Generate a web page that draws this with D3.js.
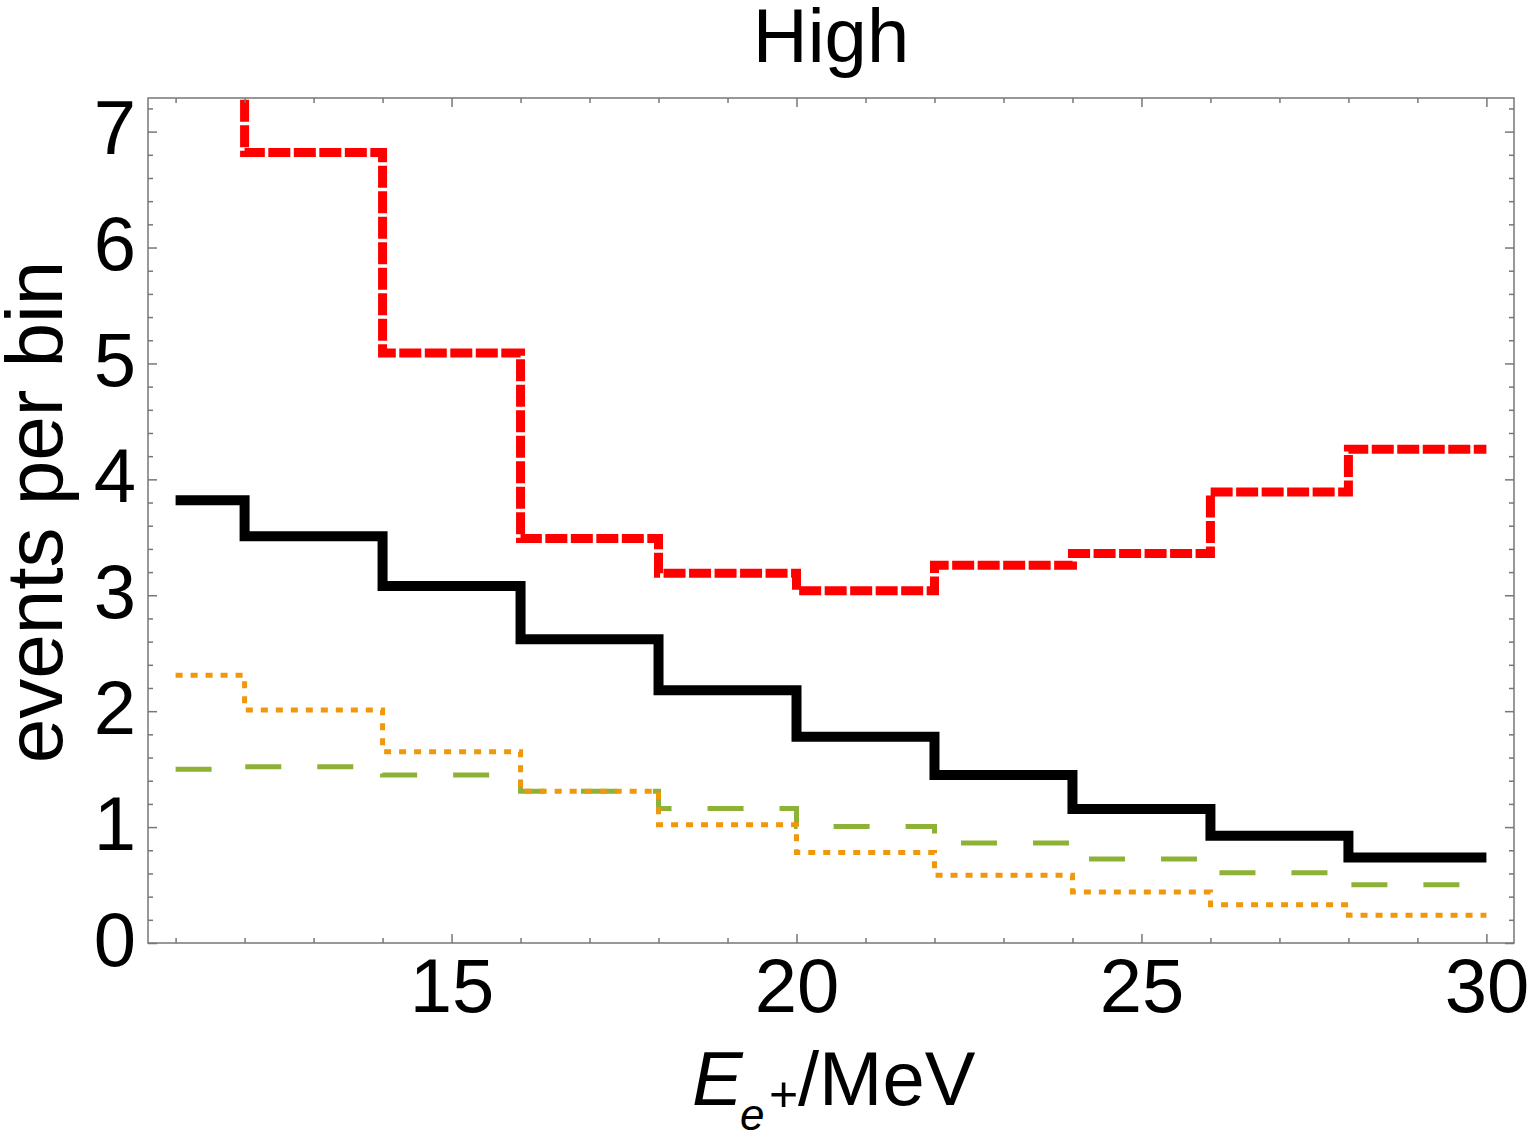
<!DOCTYPE html>
<html>
<head>
<meta charset="utf-8">
<script src="https://cdn.jsdelivr.net/npm/d3@7"></script>
<style>
  body { margin: 0; background: #fff; }
  text { font-family: "Liberation Sans", Arial, Helvetica, sans-serif; fill: #000; }
</style>
</head>
<body>
<script>
// bin edges (MeV) and events per bin for each curve
var binEdges = [11, 12, 14, 16, 18, 20, 22, 24, 26, 28, 30];
var redValues = [8.0, 6.82, 5.09, 3.49, 3.19, 3.04, 3.26, 3.36, 3.89, 4.26];
var blackValues = [3.82, 3.51, 3.08, 2.62, 2.18, 1.78, 1.45, 1.155, 0.925, 0.737];
var greenValues = [1.50, 1.52, 1.45, 1.31, 1.16, 1.005, 0.862, 0.724, 0.607, 0.503];
var orangeValues = [2.31, 2.01, 1.65, 1.31, 1.02, 0.78, 0.584, 0.44, 0.33, 0.239];

var xMajor = [15, 20, 25, 30];
var xMinor = [11, 12, 13, 14, 16, 17, 18, 19, 21, 22, 23, 24, 26, 27, 28, 29];
var yMajor = [0, 1, 2, 3, 4, 5, 6, 7];

var width = 1534, height = 1140;
var margin = {left: 148, right: 20, top: 98, bottom: 197};
var plotW = width - margin.left - margin.right;
var plotH = height - margin.top - margin.bottom;

var x = d3.scaleLinear().domain([10.6, 30.4]).range([0, plotW]);
var y = d3.scaleLinear().domain([0, 7.29]).range([plotH, 0]);

var yMinor = d3.range(0, 7.21, 0.2).filter(function(v){ return Math.abs(v - Math.round(v)) > 0.01; });

var svg = d3.select("body").append("svg").attr("width", width).attr("height", height);
var g = svg.append("g").attr("transform", "translate(" + margin.left + "," + margin.top + ")");

g.append("clipPath").attr("id", "plotClip")
  .append("rect").attr("width", plotW).attr("height", plotH);

function stepPoints(vals) {
  var pts = vals.map(function(v, i){ return [binEdges[i], v]; });
  pts.push([binEdges[binEdges.length - 1], vals[vals.length - 1]]);
  return pts;
}
var line = d3.line()
  .x(function(d){ return x(d[0]); })
  .y(function(d){ return y(d[1]); })
  .curve(d3.curveStepAfter);

var curves = g.append("g").attr("clip-path", "url(#plotClip)");

curves.append("path").attr("d", line(stepPoints(greenValues)))
  .attr("fill", "none").attr("stroke", "#8db236").attr("stroke-width", 5)
  .attr("stroke-dasharray", "36,36");
curves.append("path").attr("d", line(stepPoints(orangeValues)))
  .attr("fill", "none").attr("stroke", "#f0970c").attr("stroke-width", 5)
  .attr("stroke-dasharray", "7,8");
curves.append("path").attr("d", line(stepPoints(blackValues)))
  .attr("fill", "none").attr("stroke", "#000").attr("stroke-width", 10);
curves.append("path").attr("d", line(stepPoints(redValues)))
  .attr("fill", "none").attr("stroke", "#ff0000").attr("stroke-width", 9)
  .attr("stroke-dasharray", "22,3.5");

// frame
g.append("rect").attr("width", plotW).attr("height", plotH)
  .attr("fill", "none").attr("stroke", "#777").attr("stroke-width", 1.5);

function styleAxis(sel) {
  sel.select(".domain").remove();
  sel.selectAll("line").attr("stroke", "#777").attr("stroke-width", 1.5);
}

// bottom
g.append("g").attr("transform", "translate(0," + plotH + ")")
  .call(d3.axisBottom(x).tickValues(xMinor).tickSizeInner(-5).tickSizeOuter(0).tickFormat(""))
  .call(styleAxis);
g.append("g").attr("transform", "translate(0," + plotH + ")")
  .call(d3.axisBottom(x).tickValues(xMajor).tickSizeInner(-9).tickSizeOuter(0).tickPadding(15))
  .call(styleAxis)
  .selectAll("text").attr("font-size", 76).attr("font-family", "Liberation Sans, Arial, sans-serif").attr("fill", "#000");
// top
g.append("g")
  .call(d3.axisTop(x).tickValues(xMinor).tickSizeInner(-5).tickSizeOuter(0).tickFormat(""))
  .call(styleAxis);
g.append("g")
  .call(d3.axisTop(x).tickValues(xMajor).tickSizeInner(-9).tickSizeOuter(0).tickFormat(""))
  .call(styleAxis);
// left
g.append("g")
  .call(d3.axisLeft(y).tickValues(yMinor).tickSizeInner(-5).tickSizeOuter(0).tickFormat(""))
  .call(styleAxis);
g.append("g")
  .call(d3.axisLeft(y).tickValues(yMajor).tickSizeInner(-9).tickSizeOuter(0).tickPadding(12).tickFormat(d3.format("d")))
  .call(styleAxis)
  .selectAll("text").attr("font-size", 76).attr("font-family", "Liberation Sans, Arial, sans-serif")
  .attr("fill", "#000").attr("dy", 22);
// right
g.append("g").attr("transform", "translate(" + plotW + ",0)")
  .call(d3.axisRight(y).tickValues(yMinor).tickSizeInner(-5).tickSizeOuter(0).tickFormat(""))
  .call(styleAxis);
g.append("g").attr("transform", "translate(" + plotW + ",0)")
  .call(d3.axisRight(y).tickValues(yMajor).tickSizeInner(-9).tickSizeOuter(0).tickFormat(""))
  .call(styleAxis);

// title
svg.append("text").attr("x", margin.left + plotW / 2).attr("y", 62)
  .attr("text-anchor", "middle").attr("font-size", 76).text("High");

// y label
svg.append("text").attr("transform", "translate(62,512) rotate(-90)")
  .attr("text-anchor", "middle").attr("font-size", 80).text("events per bin");

// x label: E_{e+}/MeV
var xl = svg.append("text").attr("font-size", 76);
xl.append("tspan").attr("x", 692).attr("y", 1105).attr("font-style", "italic").text("E");
xl.append("tspan").attr("x", 740).attr("y", 1130).attr("font-size", 44).attr("font-style", "italic").text("e");
xl.append("tspan").attr("x", 769).attr("y", 1111).attr("font-size", 50).text("+");
xl.append("tspan").attr("x", 798).attr("y", 1105).text("/MeV");
</script>
</body>
</html>
